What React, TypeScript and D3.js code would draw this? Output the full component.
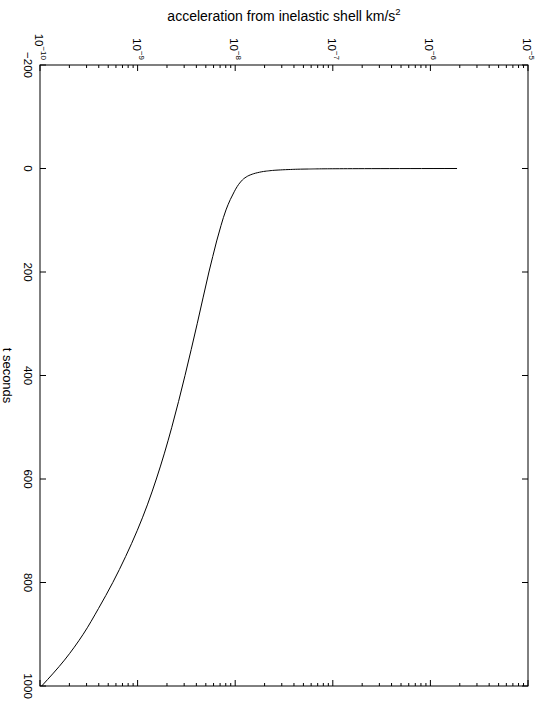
import React from "react";
import * as d3 from "d3";

const tSeconds = [0, 0.25, 0.5, 1, 2, 3, 5, 8, 12, 18, 26, 35, 45, 60, 80, 110, 140, 170, 200, 250, 300, 350, 400, 450, 500, 550, 600, 650, 700, 750, 800, 850, 900, 950, 1000];
const acceleration = [1.875e-6, 2.51e-7, 1.0e-7, 5.62e-8, 3.55e-8, 2.75e-8, 2.09e-8, 1.7e-8, 1.445e-8, 1.259e-8, 1.135e-8, 1.047e-8, 9.77e-9, 8.91e-9, 8.05e-9, 7.16e-9, 6.46e-9, 5.89e-9, 5.38e-9, 4.68e-9, 4.08e-9, 3.54e-9, 3.06e-9, 2.63e-9, 2.24e-9, 1.884e-9, 1.556e-9, 1.259e-9, 9.89e-10, 7.53e-10, 5.57e-10, 3.98e-10, 2.77e-10, 1.78e-10, 1.04e-10];

const tTicks = [-200, 0, 200, 400, 600, 800, 1000];
const accelTicks = [1e-10, 1e-9, 1e-8, 1e-7, 1e-6, 1e-5];
const accelTickExponents = ["−10", "−9", "−8", "−7", "−6", "−5"];
const titleText = "acceleration from inelastic shell km/s";
const tLabel = "t seconds";

const W = 546, H = 706;
const L = 40, R = 528, T = 65, B = 686;
const FONT = "'Liberation Sans', Arial, Helvetica, sans-serif";

export default function App() {
  const x = d3.scaleLog().domain([1e-10, 1e-5]).range([L, R]);
  const y = d3.scaleLinear().domain([-200, 1000]).range([T, B]);
  const pts = tSeconds.map((t, i) => ({ t, a: acceleration[i] }));
  const line = d3.line<{ t: number; a: number }>()
    .x((d) => x(d.a))
    .y((d) => y(d.t))
    .curve(d3.curveMonotoneY);

  const minor: number[] = [];
  for (let e = -10; e < -5; e++) {
    for (let m = 2; m <= 9; m++) minor.push(m * Math.pow(10, e));
  }
  const majorLen = 6, minorLen = 3;

  return (
    <svg width={W} height={H} style={{ position: "absolute", left: 0, top: 0, background: "#fff" }} fontFamily={FONT}>
      <rect x={0} y={0} width={W} height={H} fill="#fff" />
      {accelTicks.map((v, i) => (
        <g key={"M" + i}>
          <line x1={x(v)} x2={x(v)} y1={T} y2={T + majorLen} stroke="#000" />
          <line x1={x(v)} x2={x(v)} y1={B} y2={B - majorLen} stroke="#000" />
        </g>
      ))}
      {minor.map((v, i) => (
        <g key={"m" + i}>
          <line x1={x(v)} x2={x(v)} y1={T} y2={T + minorLen} stroke="#000" />
          <line x1={x(v)} x2={x(v)} y1={B} y2={B - minorLen} stroke="#000" />
        </g>
      ))}
      {tTicks.map((v, i) => (
        <g key={"t" + i}>
          <line x1={L} x2={L + majorLen} y1={y(v)} y2={y(v)} stroke="#000" />
          <line x1={R} x2={R - majorLen} y1={y(v)} y2={y(v)} stroke="#000" />
        </g>
      ))}
      <rect x={L} y={T} width={R - L} height={B - T} fill="none" stroke="#000" />
      <path d={line(pts) || ""} fill="none" stroke="#000" strokeWidth={1} />
      {tTicks.map((v, i) => (
        <text key={"tl" + i} transform={`translate(${L - 16},${y(v)}) rotate(90)`} textAnchor="middle" fontSize={11.5} fill="#000">
          {v < 0 ? "−" + Math.abs(v) : String(v)}
        </text>
      ))}
      {accelTicks.map((v, i) => (
        <text key={"al" + i} transform={`translate(${x(v)},60) rotate(90)`} textAnchor="end" y={5} fontSize={11.5} fill="#000">
          10<tspan dy={-6} fontSize={8}>{accelTickExponents[i]}</tspan>
        </text>
      ))}
      <text x={(L + R) / 2} y={21} textAnchor="middle" fontSize={14} fill="#000">
        {titleText}<tspan dy={-6} fontSize={9.5}>2</tspan>
      </text>
      <text transform={`translate(3,${(T + B) / 2}) rotate(90)`} textAnchor="middle" fontSize={13} fill="#000">
        {tLabel}
      </text>
    </svg>
  );
}
